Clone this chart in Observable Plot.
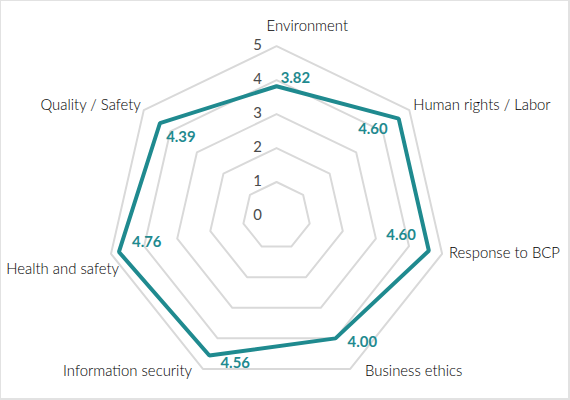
<!DOCTYPE html>
<html><head><meta charset="utf-8">
<script src="https://cdn.jsdelivr.net/npm/d3@7"></script>
<script src="https://cdn.jsdelivr.net/npm/@observablehq/plot@0.6"></script>
<style>
html,body{margin:0;padding:0;background:#fff;}
#chart{position:relative;width:570px;height:400px;box-sizing:border-box;border:1px solid #e2e2e2;border-right-width:2px;border-bottom-width:2px;overflow:hidden;}
#chart svg{position:absolute;left:-1px;top:-1px;}
</style></head><body><div id="chart"></div>
<script>
// ---- data ----
const categories = ["Environment","Human rights / Labor","Response to BCP","Business ethics","Information security","Health and safety","Quality / Safety"];
const values = [3.82, 4.60, 4.60, 4.00, 4.56, 4.76, 4.39];
const levels = [1, 2, 3, 4, 5];
const tickLabels = [0, 1, 2, 3, 4, 5];
const maxValue = 5;

// ---- layout (label placement, pixels) ----
const valueLabelOffset = [[19,-8],[-26,11],[-28,-16],[27,4],[26,8],[28,-10],[21,14]];
const axisLabelLayout = [["start",-10,-20],["start",4,-5],["start",7,-1],["start",15,2],["end",-11,2],["end",8,16],["end",-3,-5]];

const teal = "#1f8a8f";
const n = categories.length;
const ang = i => i * 2 * Math.PI / n;
const px = (r, i) => r * Math.sin(ang(i));
const py = (r, i) => r * Math.cos(ang(i));

const gridPts = levels.flatMap(l => categories.map((c, i) => ({level: l, x: px(l, i), y: py(l, i)})));
const dataPts = values.map((v, i) => ({cat: categories[i], v, x: px(v, i), y: py(v, i)}));
const cx = 277, cy = 216, R = 171;

const marks = [
  Plot.line(gridPts, {x: "x", y: "y", z: "level", curve: "linear-closed", stroke: "#d9d9d9", strokeWidth: 2}),
  Plot.line(dataPts, {x: "x", y: "y", curve: "linear-closed", stroke: teal, strokeWidth: 4, strokeLinejoin: "miter"}),
  Plot.text(tickLabels, {x: 0, y: d => d, text: d => String(d), dx: -19, dy: -1, fill: "#4a4a4a", fontSize: 15}),
  ...dataPts.map((d, i) => Plot.text([d], {x: "x", y: "y", text: d => d.v.toFixed(2), dx: valueLabelOffset[i][0], dy: valueLabelOffset[i][1], fill: teal, fontSize: 15, fontWeight: "bold"})),
  ...categories.map((c, i) => Plot.text([c], {x: px(maxValue, i), y: py(maxValue, i), text: d => d, textAnchor: axisLabelLayout[i][0], dx: axisLabelLayout[i][1], dy: axisLabelLayout[i][2], fill: "#000", fontSize: 15, fontWeight: 300}))
];

const chart = Plot.plot({
  width: 571, height: 401,
  margin: 0,
  x: {domain: [-maxValue, maxValue], range: [cx + 1 - R, cx + 1 + R], axis: null},
  y: {domain: [-maxValue, maxValue], range: [cy + 1 + R, cy + 1 - R], axis: null},
  style: {fontFamily: "Lato, 'Noto Sans', sans-serif", background: "transparent", overflow: "visible"},
  marks
});
document.getElementById("chart").appendChild(chart);
</script>
</body></html>
